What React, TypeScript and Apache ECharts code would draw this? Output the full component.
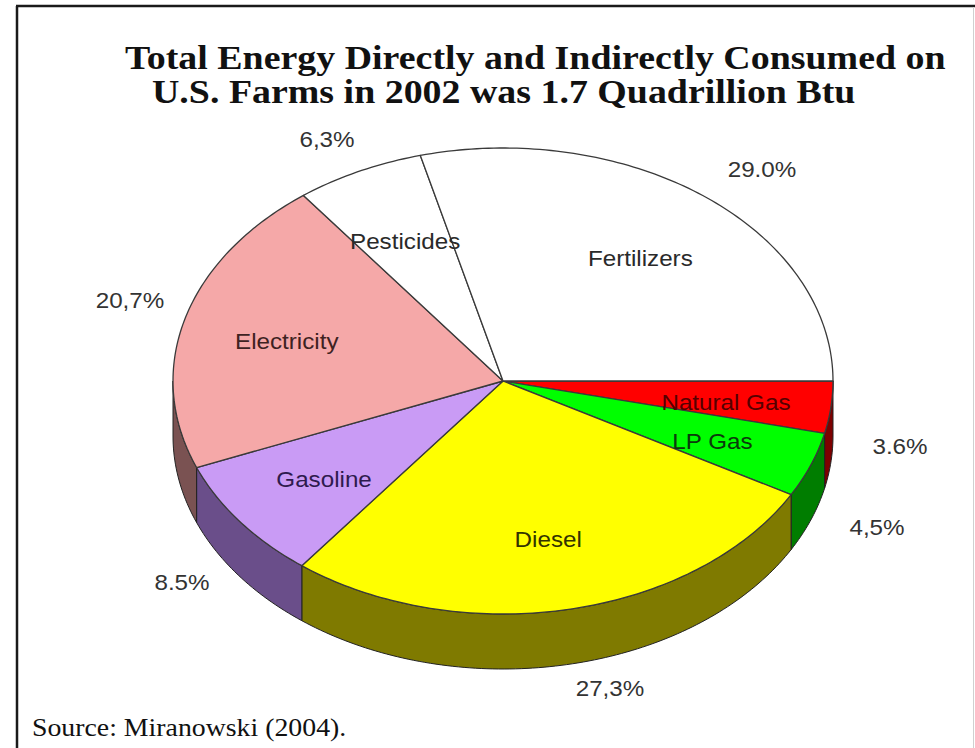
import React, { useEffect, useRef } from "react";
import * as echarts from "echarts";

// ---- data ----
const categories = ["Natural Gas", "LP Gas", "Diesel", "Gasoline", "Electricity", "Pesticides", "Fertilizers"];
const shares = [3.6, 4.5, 27.3, 8.5, 20.7, 6.3, 29.0];
const shareLabels = ["3.6%", "4,5%", "27,3%", "8.5%", "20,7%", "6,3%", "29.0%"];
const titleLines = [
  "Total Energy Directly and Indirectly Consumed on",
  "U.S. Farms in 2002 was 1.7 Quadrillion Btu",
];
const sourceText = "Source: Miranowski (2004).";

// ---- styles / layout ----
const topColors = ["#ff0000", "#00ff00", "#ffff00", "#c99bf5", "#f5a8a8", "#ffffff", "#ffffff"];
const sideColors = ["#7d0000", "#007d00", "#7f7a00", "#6a4e8a", "#7a5252", "#888888", "#888888"];
const nameColors = ["#560000", "#0b3a0b", "#333300", "#2e1a4e", "#3e2222", "#2a2a2a", "#2a2a2a"];
const CX = 503, CY = 381, RX = 330, RY = 233, DEPTH = 55;
const NAME_FACTOR = 0.68;
const PCT_POS: number[][] = [
  [900, 446], [877, 527], [610, 688], [182, 582], [130, 300], [327, 139], [762, 169],
];

const total = shares.reduce((a, b) => a + b, 0);
const starts: number[] = [];
{
  let acc = 0;
  shares.forEach((v) => { starts.push(acc); acc += v; });
}

function pt(t: number, dy = 0): number[] {
  return [CX + RX * Math.cos(t), CY + RY * Math.sin(t) + dy];
}
function arcPts(t0: number, t1: number, dy = 0): number[][] {
  const n = Math.max(2, Math.ceil(Math.abs(t1 - t0) / (Math.PI / 180)));
  const pts: number[][] = [];
  for (let i = 0; i <= n; i++) pts.push(pt(t0 + ((t1 - t0) * i) / n, dy));
  return pts;
}

export default function App() {
  const ref = useRef<HTMLDivElement>(null);
  useEffect(() => {
    document.body.style.margin = "0";
    if (!ref.current) return;
    const chart = echarts.init(ref.current, null, { renderer: "svg" });
    const option: any = {
      animation: false,
      backgroundColor: "#ffffff",
      graphic: [
        { type: "line", shape: { x1: 16, y1: 6, x2: 975, y2: 6 }, style: { stroke: "#1a1a1a", lineWidth: 2.5 } },
        { type: "line", shape: { x1: 17, y1: 6, x2: 17, y2: 748 }, style: { stroke: "#1a1a1a", lineWidth: 2.5 } },
        { type: "line", shape: { x1: 973.5, y1: 7, x2: 973.5, y2: 748 }, style: { stroke: "#d0d0d0", lineWidth: 1 } },
        {
          type: "text", x: 125, y: 58, scaleX: 1.115,
          style: { text: titleLines[0], font: "bold 34px 'Liberation Serif'", fill: "#111", align: "left", verticalAlign: "middle" },
        },
        {
          type: "text", x: 152, y: 92, scaleX: 1.115,
          style: { text: titleLines[1], font: "bold 34px 'Liberation Serif'", fill: "#111", align: "left", verticalAlign: "middle" },
        },
        {
          type: "text", x: 32, y: 727, scaleX: 1.07,
          style: { text: sourceText, font: "26px 'Liberation Serif'", fill: "#111", align: "left", verticalAlign: "middle" },
        },
      ],
      series: [
        {
          type: "custom",
          coordinateSystem: "none",
          data: shares,
          renderItem: (params: any, api: any) => {
            const i = params.dataIndex;
            const v = api.value(0) as number;
            const t0 = (starts[i] / total) * Math.PI * 2;
            const t1 = ((starts[i] + v) / total) * Math.PI * 2;
            const children: any[] = [];
            const a = Math.max(t0, 0), b = Math.min(t1, Math.PI);
            if (b > a) {
              children.push({
                type: "polygon",
                shape: { points: arcPts(a, b).concat(arcPts(b, a, DEPTH)) },
                style: { fill: sideColors[i], stroke: "#222", lineWidth: 1, lineJoin: "round" },
              });
            }
            children.push({
              type: "polygon",
              shape: { points: [[CX, CY]].concat(arcPts(t0, t1)) },
              style: { fill: topColors[i], stroke: "#3a3a3a", lineWidth: 1.3, lineJoin: "round" },
            });
            const tm = (t0 + t1) / 2;
            children.push({
              type: "text", z2: 10,
              x: CX + RX * NAME_FACTOR * Math.cos(tm),
              y: CY + RY * NAME_FACTOR * Math.sin(tm) + 3,
              scaleX: 1.1,
              style: {
                text: categories[i], font: "22px 'Liberation Sans'", fill: nameColors[i],
                align: "center", verticalAlign: "middle",
              },
            });
            children.push({
              type: "text", z2: 10,
              x: PCT_POS[i][0], y: PCT_POS[i][1], scaleX: 1.1,
              style: {
                text: shareLabels[i], font: "22px 'Liberation Sans'", fill: "#333",
                align: "center", verticalAlign: "middle",
              },
            });
            return { type: "group", children };
          },
        },
      ],
    };
    chart.setOption(option);
    return () => chart.dispose();
  }, []);
  return <div ref={ref} style={{ width: 975, height: 748 }} />;
}
